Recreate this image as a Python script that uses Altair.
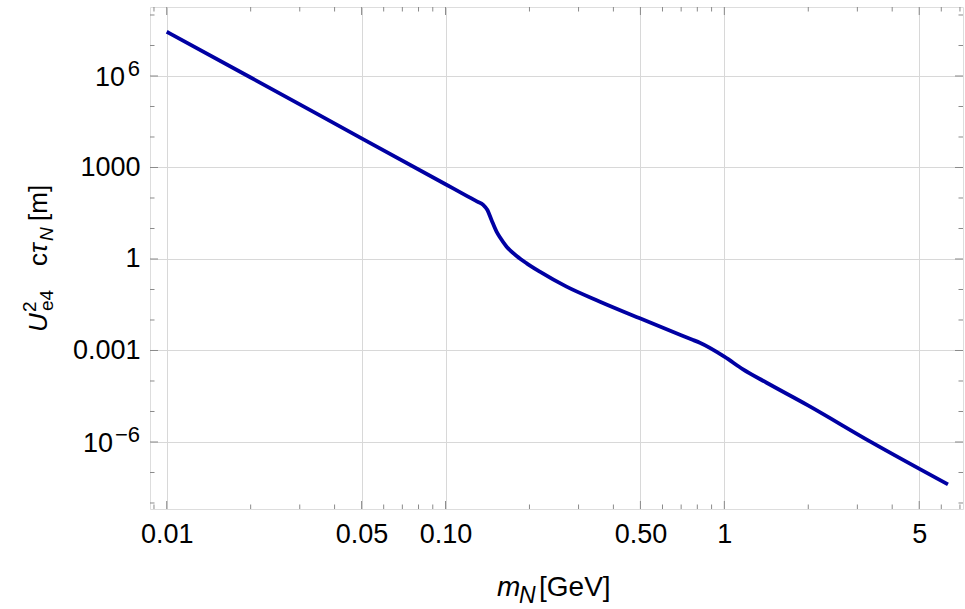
import math
import altair as alt
import pandas as pd

# Heavy neutral lepton: U_e4^2 * c * tau_N  [m]  versus mass m_N [GeV]
mass_gev = [0.01, 0.02, 0.05, 0.1, 0.12, 0.13, 0.1365, 0.1413, 0.1462,
            0.1524, 0.1567, 0.1656, 0.1799, 0.1954, 0.2178, 0.2716, 0.3581,
            0.4977, 0.7727, 0.8166, 1.0, 1.167, 1.413, 1.995, 3.327, 6.339]
ctau_m = [2.818e7, 8.91e5, 9.016e3, 281.8, 113.5, 75.9, 59.6, 40.5, 19.0,
          7.87, 5.14, 2.535, 1.253, 0.721, 0.385, 0.1239, 0.0399, 0.01135,
          0.002208, 0.001799, 6.31e-4, 2.40e-4, 8.91e-5, 1.585e-5, 1.047e-6,
          4.07e-8]

x_major = [0.01, 0.05, 0.1, 0.5, 1, 5]
x_major_text = ["0.01", "0.05", "0.10", "0.50", "1", "5"]
x_minor = [0.009, 0.02, 0.03, 0.04, 0.06, 0.07, 0.08, 0.09, 0.2, 0.3, 0.4,
           0.6, 0.7, 0.8, 0.9, 2, 3, 4, 6, 7]

y_major = [1e6, 1e3, 1, 1e-3, 1e-6]
y_plain_text = ["", "1000", "1", "0.001", ""]
y_power_values = [1e6, 1e-6]
y_power_exponents = ["6", "\u22126"]
y_minor = [1e8, 1e7, 1e5, 1e4, 1e2, 1e1, 1e-1, 1e-2, 1e-4, 1e-5, 1e-7, 1e-8]

x_domain = [10 ** -2.060, 10 ** 0.856]
y_domain = [10 ** -8.197, 10 ** 8.262]

W, H = 813, 502
FONT = "Liberation Sans"
FRAME = "#8a8a8a"
GRID = "#d8d8d8"
LINE = "#0000a3"
TICK_FS = 27

xs = alt.Scale(type="log", domain=x_domain, nice=False)
ys = alt.Scale(type="log", domain=y_domain, nice=False)


def label_expr(values, texts):
    expr = "''"
    for v, t in reversed(list(zip(values, texts))):
        expr = f"abs(log(datum.value)/LN10 - ({math.log10(v):.4f})) < 0.01 ? '{t}' : {expr}"
    return expr


x_axis = alt.Axis(
    values=x_major, labelExpr=label_expr(x_major, x_major_text),
    title=None, ticks=False, domain=False, grid=True,
    gridColor=GRID, gridWidth=1, labelFont=FONT, labelFontSize=TICK_FS,
    labelColor="black", labelPadding=12, labelFlush=False)
y_axis = alt.Axis(
    values=y_major, labelExpr=label_expr(y_major, y_plain_text),
    title=None, ticks=False, domain=False, grid=True,
    gridColor=GRID, gridWidth=1, labelFont=FONT, labelFontSize=TICK_FS,
    labelColor="black", labelPadding=10, labelFlush=False)


def xenc(field):
    return alt.X(field, scale=xs, axis=x_axis)


def yenc(field):
    return alt.Y(field, scale=ys, axis=y_axis)


curve = pd.DataFrame({"m": mass_gev, "ctau": ctau_m})

line = alt.Chart(curve).mark_line(
    color=LINE, strokeWidth=3.8, interpolate="monotone"
).encode(x=xenc("m:Q"), y=yenc("ctau:Q"))

xmaj = pd.DataFrame({"v": x_major})
xmin = pd.DataFrame({"v": x_minor})
ymaj = pd.DataFrame({"v": y_major})
ymin = pd.DataFrame({"v": y_minor})


def xticks(df, length):
    bottom = alt.Chart(df).mark_rule(color=FRAME, strokeWidth=1).encode(
        x=xenc("v:Q"), y=alt.value(H), y2=alt.value(H - length))
    top = alt.Chart(df).mark_rule(color=FRAME, strokeWidth=1).encode(
        x=xenc("v:Q"), y=alt.value(0), y2=alt.value(length))
    return [bottom, top]


def yticks(df, length):
    left = alt.Chart(df).mark_rule(color=FRAME, strokeWidth=1).encode(
        y=yenc("v:Q"), x=alt.value(0), x2=alt.value(length))
    right = alt.Chart(df).mark_rule(color=FRAME, strokeWidth=1).encode(
        y=yenc("v:Q"), x=alt.value(W), x2=alt.value(W - length))
    return [left, right]


tick_layers = xticks(xmaj, 8) + xticks(xmin, 4.5) + yticks(ymaj, 8) + yticks(ymin, 4.5)

# power-of-ten labels on the y axis: base "10" plus a raised exponent
power_layers = []
base_right = {"6": -25, "\u22126": -37}
for v, e in zip(y_power_values, y_power_exponents):
    df = pd.DataFrame({"v": [v]})
    power_layers.append(alt.Chart(df).mark_text(
        text="10", font=FONT, fontSize=TICK_FS, align="right", baseline="middle",
        dy=2, color="black").encode(y=yenc("v:Q"), x=alt.value(base_right[e])))
    power_layers.append(alt.Chart(df).mark_text(
        text=e, font=FONT, fontSize=22, align="right", baseline="middle",
        dy=-7, color="black").encode(y=yenc("v:Q"), x=alt.value(-10)))

one = pd.DataFrame({"k": [0]})


def piece(text, x, y, size, italic=False, angle=0):
    kw = dict(text=text, font=FONT, fontSize=size, align="left",
              baseline="alphabetic", color="black")
    if italic:
        kw["fontStyle"] = "italic"
    if angle:
        kw["angle"] = angle
    return alt.Chart(one).mark_text(**kw).encode(x=alt.value(x), y=alt.value(y))


# x title: m_N[GeV]
x_title = [
    piece("m", 347, 589, 28, italic=True),
    piece("N", 369, 596, 23, italic=True),
    piece("[GeV]", 389, 589, 28),
]

# y title: U^2_e4 c tau_N [m], rotated to read upwards
yb = -103
y_title = [
    piece("U", yb, 325, 26, italic=True, angle=270),
    piece("2", yb - 11, 305, 19, angle=270),
    piece("e4", yb + 6, 304, 19, angle=270),
    piece("c", yb, 259, 26, angle=270),
    piece("\u03c4", yb, 246, 26, italic=True, angle=270),
    piece("N", yb + 6, 234, 19, italic=True, angle=270),
    piece("[m]", yb, 214, 26, angle=270),
]

chart = alt.layer(
    line, *tick_layers, *power_layers, *x_title, *y_title
).properties(
    width=W, height=H,
    padding={"left": 150, "top": 7, "right": 2, "bottom": 100},
    autosize=alt.AutoSizeParams(type="none"),
).configure_view(
    stroke=FRAME, strokeWidth=1.2
).configure(background="white")

chart.save("out.html", embed_options={"renderer": "svg", "actions": False})
